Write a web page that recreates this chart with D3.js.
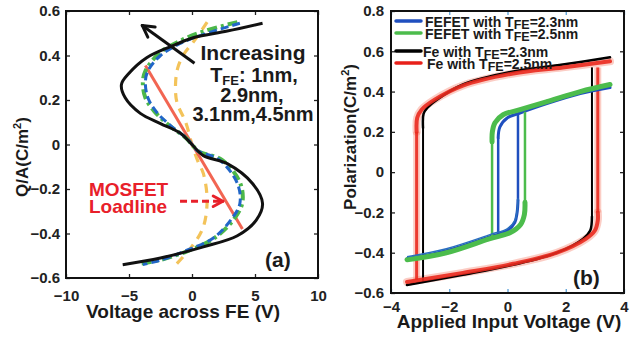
<!DOCTYPE html>
<html><head><meta charset="utf-8">
<script src="https://cdn.jsdelivr.net/npm/d3@7"></script>
<style>
html,body{margin:0;padding:0;background:#fff;}
svg{display:block;font-family:"Liberation Sans",Arial,sans-serif;font-weight:bold;}
</style></head>
<body><svg id="c" width="643" height="338"></svg>
<script>
// ---------- Panel (a) data: Q/A vs Voltage across FE ----------
const aXTicks = [-10, -5, 0, 5, 10];
const aYTicks = [-0.6, -0.4, -0.2, 0, 0.2, 0.4, 0.6];
// black solid S-curve (T_FE = 4.5nm)
const blackV = [5.6, 2.8, 0.1, -1.7, -3.6, -5.0, -5.6, -5.3, -4.1, -2.5, -0.9, 0.0, 0.9, 2.8, 4.8, 5.6, 5.1, 3.6, 0.9, -2.5, -5.5];
const blackQ = [0.545, 0.51, 0.48, 0.44, 0.39, 0.32, 0.27, 0.21, 0.14, 0.094, 0.05, 0.0, -0.05, -0.086, -0.175, -0.265, -0.34, -0.41, -0.46, -0.51, -0.54];
// green dash-dot (T_FE = 3.1nm)
const greenV = [3.6, 1.0, -0.8, -2.6, -3.7, -3.9, -3.7, -3.0, -1.9, -0.5, 0.0, 0.5, 2.4, 3.8, 4.0, 3.4, 1.8, -0.4, -2.6, -4.0];
const greenQ = [0.55, 0.51, 0.47, 0.41, 0.33, 0.28, 0.21, 0.15, 0.09, 0.03, 0.0, -0.03, -0.07, -0.17, -0.26, -0.33, -0.42, -0.48, -0.52, -0.535];
// blue dashed (T_FE = 2.9nm)
const blueV = [3.8, 1.2, -0.7, -2.5, -3.5, -3.7, -3.5, -2.8, -1.7, -0.4, 0.0, 0.4, 2.2, 3.6, 3.8, 3.2, 1.7, -0.4, -2.5, -3.9];
const blueQ = [0.545, 0.50, 0.46, 0.40, 0.33, 0.28, 0.21, 0.145, 0.085, 0.027, 0.0, -0.027, -0.07, -0.175, -0.265, -0.33, -0.42, -0.475, -0.52, -0.54];
// orange dashed (T_FE = 1nm)
const orangeV = [1.2, 0.6, 0.1, -0.6, -1.1, -1.3, -1.2, -0.5, 0.0, 0.5, 0.9, 1.2, 0.9, 0.1, -1.2];
const orangeQ = [0.55, 0.50, 0.46, 0.41, 0.35, 0.28, 0.19, 0.10, 0.0, -0.08, -0.13, -0.25, -0.37, -0.45, -0.535];
// MOSFET loadline
const loadV = [-3.7, 4.0];
const loadQ = [0.355, -0.38];

// ---------- Panel (b) data: Polarization vs Applied Input Voltage ----------
const bXTicks = [-4, -2, 0, 2, 4];
const bYTicks = [-0.6, -0.4, -0.2, 0, 0.2, 0.4, 0.6, 0.8];
// Fe with T_FE = 2.3nm (black)
const feBlkUpV = [3.52, 1.9, 0.2, -1.53, -2.42, -2.75, -2.88, -2.9];
const feBlkUpP = [0.57, 0.534, 0.50, 0.435, 0.36, 0.32, 0.29, 0.22];
const feBlkLoV = [-3.45, -1.53, 0.2, 1.7, 2.6, 2.84, 2.9];
const feBlkLoP = [-0.56, -0.51, -0.46, -0.40, -0.33, -0.29, -0.22];
const feBlkSwV = [-2.9, 2.9];
const feBlkSwP = [[-0.54, 0.22], [-0.22, 0.52]];
// Fe with T_FE = 2.5nm (red)
const feRedUpV = [3.52, 1.9, 0.2, -1.53, -2.5, -2.95, -3.1, -3.12];
const feRedUpP = [0.55, 0.52, 0.49, 0.43, 0.36, 0.31, 0.27, 0.2];
const feRedLoV = [-3.45, -1.53, 0.2, 1.7, 2.7, 3.0, 3.1, 3.1];
const feRedLoP = [-0.545, -0.50, -0.455, -0.40, -0.33, -0.29, -0.24, -0.2];
const feRedSwV = [-3.12, 3.1];
const feRedSwP = [[-0.535, 0.2], [-0.2, 0.52]];
// FEFET with T_FE = 2.3nm (blue)
const fetBluUpV = [3.52, 2.5, 1.35, 0.36, 0.0, -0.26, -0.32];
const fetBluUpP = [0.42, 0.39, 0.34, 0.29, 0.27, 0.225, 0.17];
const fetBluLoV = [-3.45, -2.1, -0.6, 0.0, 0.25, 0.33, 0.36];
const fetBluLoP = [-0.43, -0.39, -0.32, -0.29, -0.25, -0.2, -0.14];
const fetBluSwV = [-0.32, 0.36];
const fetBluSwP = [[-0.31, 0.17], [-0.14, 0.285]];
// FEFET with T_FE = 2.5nm (green)
const fetGrnUpV = [3.52, 2.5, 1.35, 0.43, -0.15, -0.43, -0.52, -0.53];
const fetGrnUpP = [0.435, 0.40, 0.35, 0.31, 0.285, 0.245, 0.2, 0.15];
const fetGrnLoV = [-3.45, -2.1, -0.6, 0.1, 0.45, 0.58, 0.6];
const fetGrnLoP = [-0.435, -0.40, -0.33, -0.30, -0.26, -0.21, -0.15];
const fetGrnSwV = [-0.53, 0.6];
const fetGrnSwP = [[-0.33, 0.15], [-0.15, 0.30]];

const legendLabels = [["FEFET with T", "FE", "=2.3nm"], ["FEFET with T", "FE", "=2.5nm"], ["Fe with T", "FE", "=2.3nm"], ["Fe with T", "FE", "=2.5nm"]];
const legendColors = ["#1f4fbf", "#4cbc4c", "#000000", "#e8201a"];

const svg = d3.select("#c");
const zip = (a, b) => a.map((v, i) => [v, b[i]]);

// ================= Panel (a) =================
const xa = d3.scaleLinear().domain([-10, 10]).range([66, 318]);
const ya = d3.scaleLinear().domain([-0.6, 0.6]).range([278, 11]);
const ga = svg.append("g");
const lineA = d3.line().x(d => xa(d[0])).y(d => ya(d[1])).curve(d3.curveCatmullRom.alpha(0.5));

ga.append("path").datum(zip(orangeV, orangeQ)).attr("d", lineA)
  .attr("fill", "none").attr("stroke", "#f3c35a").attr("stroke-width", 3.2).attr("stroke-dasharray", "9,7");
ga.append("path").datum(zip(loadV, loadQ)).attr("d", d3.line().x(d => xa(d[0])).y(d => ya(d[1])))
  .attr("fill", "none").attr("stroke", "#f26552").attr("stroke-width", 3);
ga.append("path").datum(zip(greenV, greenQ)).attr("d", lineA)
  .attr("fill", "none").attr("stroke", "#4cb84a").attr("stroke-width", 4).attr("stroke-dasharray", "10,4,3,4");
ga.append("path").datum(zip(blueV, blueQ)).attr("d", lineA)
  .attr("fill", "none").attr("stroke", "#2166c8").attr("stroke-width", 3).attr("stroke-dasharray", "8,4");
ga.append("path").datum(zip(blackV, blackQ)).attr("d", lineA)
  .attr("fill", "none").attr("stroke", "#111").attr("stroke-width", 3);

// axes (a)
const axA = (g, ax) => g.call(ax).call(s => s.select(".domain").remove())
  .call(s => s.selectAll("text").attr("fill", "#222").style("font-size", "15px").style("font-weight", "bold").style("font-family", "Liberation Sans, Arial, sans-serif"))
  .call(s => s.selectAll("line").attr("stroke", "#222").attr("stroke-width", 1.3));
ga.append("g").attr("transform", `translate(0,${ya(-0.6)})`).call(g => axA(g, d3.axisBottom(xa).tickValues(aXTicks).tickSizeInner(-4).tickSizeOuter(0).tickPadding(12).tickFormat(d3.format("d"))));
ga.append("g").attr("transform", `translate(0,${ya(0.6)})`).call(g => axA(g, d3.axisTop(xa).tickValues(aXTicks).tickSizeInner(-4).tickSizeOuter(0).tickFormat("")));
ga.append("g").attr("transform", `translate(${xa(-10)},0)`).call(g => axA(g, d3.axisLeft(ya).tickValues(aYTicks).tickSizeInner(-4).tickSizeOuter(0).tickPadding(6).tickFormat(d => d === 0 ? "0" : d3.format(".1f")(d))));
ga.append("g").attr("transform", `translate(${xa(10)},0)`).call(g => axA(g, d3.axisRight(ya).tickValues(aYTicks).tickSizeInner(-4).tickSizeOuter(0).tickFormat("")));
ga.append("rect").attr("x", xa(-10)).attr("y", ya(0.6)).attr("width", xa(10) - xa(-10)).attr("height", ya(-0.6) - ya(0.6))
  .attr("fill", "none").attr("stroke", "#111").attr("stroke-width", 2);

// annotations (a)
const arrowHead = (g, x1, y1, x2, y2, len, color, w) => {
  const ang = Math.atan2(y2 - y1, x2 - x1);
  [0.5, -0.5].forEach(da => {
    g.append("line").attr("x1", x2).attr("y1", y2)
      .attr("x2", x2 - len * Math.cos(ang + da)).attr("y2", y2 - len * Math.sin(ang + da))
      .attr("stroke", color).attr("stroke-width", w).attr("stroke-linecap", "round");
  });
};
{
  const x1 = xa(0.2), y1 = ya(0.365), x2 = xa(-3.95), y2 = ya(0.535);
  ga.append("line").attr("x1", x1).attr("y1", y1).attr("x2", x2).attr("y2", y2).attr("stroke", "#111").attr("stroke-width", 3);
  arrowHead(ga, x1, y1, x2, y2, 13, "#111", 3);
}
const incT = ga.append("text").attr("text-anchor", "middle").attr("fill", "#1a1a1a").style("font-size", "21px");
incT.append("tspan").attr("x", 253).attr("y", 60).text("Increasing");
const l2 = ga.append("text").attr("text-anchor", "middle").attr("fill", "#1a1a1a").style("font-size", "20px").attr("x", 254).attr("y", 82);
l2.append("tspan").text("T");
l2.append("tspan").attr("dy", 3).style("font-size", "13px").text("FE");
l2.append("tspan").attr("dy", -3).text(": 1nm,");
ga.append("text").attr("text-anchor", "middle").attr("fill", "#1a1a1a").style("font-size", "20px").attr("x", 252).attr("y", 102).text("2.9nm,");
ga.append("text").attr("text-anchor", "middle").attr("fill", "#1a1a1a").style("font-size", "20px").attr("x", 253).attr("y", 121).text("3.1nm,4.5nm");

ga.append("text").attr("x", 89).attr("y", 196).attr("fill", "#e8202a").style("font-size", "19px").text("MOSFET");
ga.append("text").attr("x", 89).attr("y", 213).attr("fill", "#e8202a").style("font-size", "19px").text("Loadline");
{
  const x1 = xa(-0.95), y1 = ya(-0.255), x2 = xa(2.45), y2 = ya(-0.255);
  ga.append("line").attr("x1", x1).attr("y1", y1).attr("x2", x2 - 2).attr("y2", y2).attr("stroke", "#e8202a").attr("stroke-width", 3).attr("stroke-dasharray", "7,4");
  arrowHead(ga, x1, y1, x2, y2, 11, "#e8202a", 3);
}
ga.append("text").attr("x", 265).attr("y", 267).attr("fill", "#1a1a1a").style("font-size", "21px").text("(a)");
ga.append("text").attr("text-anchor", "middle").attr("x", 183).attr("y", 318).attr("fill", "#1a1a1a").style("font-size", "19px").text("Voltage across FE (V)");
{
  const t = ga.append("text").attr("text-anchor", "middle").attr("fill", "#1a1a1a").style("font-size", "17px")
    .attr("transform", "translate(28,157) rotate(-90)");
  t.append("tspan").text("Q/A(C/m");
  t.append("tspan").attr("dy", -7).style("font-size", "11px").text("2");
  t.append("tspan").attr("dy", 7).text(")");
}

// ================= Panel (b) =================
const xb = d3.scaleLinear().domain([-4, 4]).range([391, 624]);
const yb = d3.scaleLinear().domain([-0.6, 0.8]).range([293, 11]);
const gb = svg.append("g");
const lineB = d3.line().x(d => xb(d[0])).y(d => yb(d[1])).curve(d3.curveCatmullRom.alpha(0.5));
const lineS = d3.line().x(d => xb(d[0])).y(d => yb(d[1]));

function loop(upV, upP, loV, loP, swV, swP, color, w, sw, opacity) {
  [zip(upV, upP), zip(loV, loP)].forEach(d => gb.append("path").datum(d).attr("d", lineB)
    .attr("fill", "none").attr("stroke", color).attr("stroke-width", w).attr("stroke-opacity", opacity).attr("stroke-linecap", "round"));
  swV.forEach((v, i) => gb.append("path").datum([[v, swP[i][0]], [v, swP[i][1]]]).attr("d", lineS)
    .attr("fill", "none").attr("stroke", color).attr("stroke-width", sw).attr("stroke-opacity", opacity));
}
// red halo
loop(feRedUpV, feRedUpP, feRedLoV, feRedLoP, feRedSwV, feRedSwP, "#f4826e", 8, 7, 0.4);
loop(feBlkUpV, feBlkUpP, feBlkLoV, feBlkLoP, feBlkSwV, feBlkSwP, "#000", 2.5, 2, 1);
loop(feRedUpV, feRedUpP, feRedLoV, feRedLoP, feRedSwV, feRedSwP, "#ea2a1e", 4, 3, 0.9);
loop(fetBluUpV, fetBluUpP, fetBluLoV, fetBluLoP, fetBluSwV, fetBluSwP, "#1f4fbf", 3, 2.5, 1);
loop(fetGrnUpV, fetGrnUpP, fetGrnLoV, fetGrnLoP, fetGrnSwV, fetGrnSwP, "#4cbc4c", 5, 2.5, 1);
// blue lower branch edge visible above green
gb.append("path").datum(zip(fetBluLoV, fetBluLoP)).attr("d", lineB).attr("fill", "none").attr("stroke", "#2a6fbf").attr("stroke-width", 1.5).attr("transform", "translate(0,-2)");

const axB = (g, ax, col) => g.call(ax).call(s => s.select(".domain").remove())
  .call(s => s.selectAll("text").attr("fill", "#222").style("font-size", "15px").style("font-weight", "bold").style("font-family", "Liberation Sans, Arial, sans-serif"))
  .call(s => s.selectAll("line").attr("stroke", col).attr("stroke-width", 1.3));
gb.append("g").attr("transform", `translate(0,${yb(-0.6)})`).call(g => axB(g, d3.axisBottom(xb).tickValues(bXTicks).tickSizeInner(-4).tickSizeOuter(0).tickPadding(8).tickFormat(d3.format("d")), "#5aa0d8"));
gb.append("g").attr("transform", `translate(0,${yb(0.8)})`).call(g => axB(g, d3.axisTop(xb).tickValues(bXTicks).tickSizeInner(-4).tickSizeOuter(0).tickFormat(""), "#5aa0d8"));
gb.append("g").attr("transform", `translate(${xb(-4)},0)`).call(g => axB(g, d3.axisLeft(yb).tickValues(bYTicks).tickSizeInner(-4).tickSizeOuter(0).tickPadding(7).tickFormat(d => d === 0 ? "0" : d3.format(".1f")(d)), "#222"));
gb.append("g").attr("transform", `translate(${xb(4)},0)`).call(g => axB(g, d3.axisRight(yb).tickValues(bYTicks).tickSizeInner(-4).tickSizeOuter(0).tickFormat(""), "#222"));
gb.append("rect").attr("x", xb(-4)).attr("y", yb(0.8)).attr("width", xb(4) - xb(-4)).attr("height", yb(-0.6) - yb(0.8))
  .attr("fill", "none").attr("stroke", "#111").attr("stroke-width", 2);

// legend
const legY = [21, 33, 51, 63];
const legTX = [425, 425, 423, 427];
legendLabels.forEach((lab, i) => {
  gb.append("line").attr("x1", 396).attr("x2", 421).attr("y1", legY[i]).attr("y2", legY[i])
    .attr("stroke", legendColors[i]).attr("stroke-width", 3.5).attr("stroke-linecap", "round");
  const t = gb.append("text").attr("x", legTX[i]).attr("y", legY[i] + 6).attr("fill", "#1a1a1a").style("font-size", "14px");
  t.append("tspan").text(lab[0]);
  t.append("tspan").attr("dy", 2).style("font-size", "12.5px").text(lab[1]);
  t.append("tspan").attr("dy", -2).text(lab[2]);
});

gb.append("text").attr("x", 573).attr("y", 285).attr("fill", "#1a1a1a").style("font-size", "21px").text("(b)");
gb.append("text").attr("text-anchor", "middle").attr("x", 509).attr("y", 328).attr("fill", "#1a1a1a").style("font-size", "19px").text("Applied Input Voltage (V)");
{
  const t = gb.append("text").attr("text-anchor", "middle").attr("fill", "#1a1a1a").style("font-size", "17px")
    .attr("transform", "translate(356,137) rotate(-90)");
  t.append("tspan").text("Polarization(C/m");
  t.append("tspan").attr("dy", -7).style("font-size", "11px").text("2");
  t.append("tspan").attr("dy", 7).text(")");
}
</script></body></html>
